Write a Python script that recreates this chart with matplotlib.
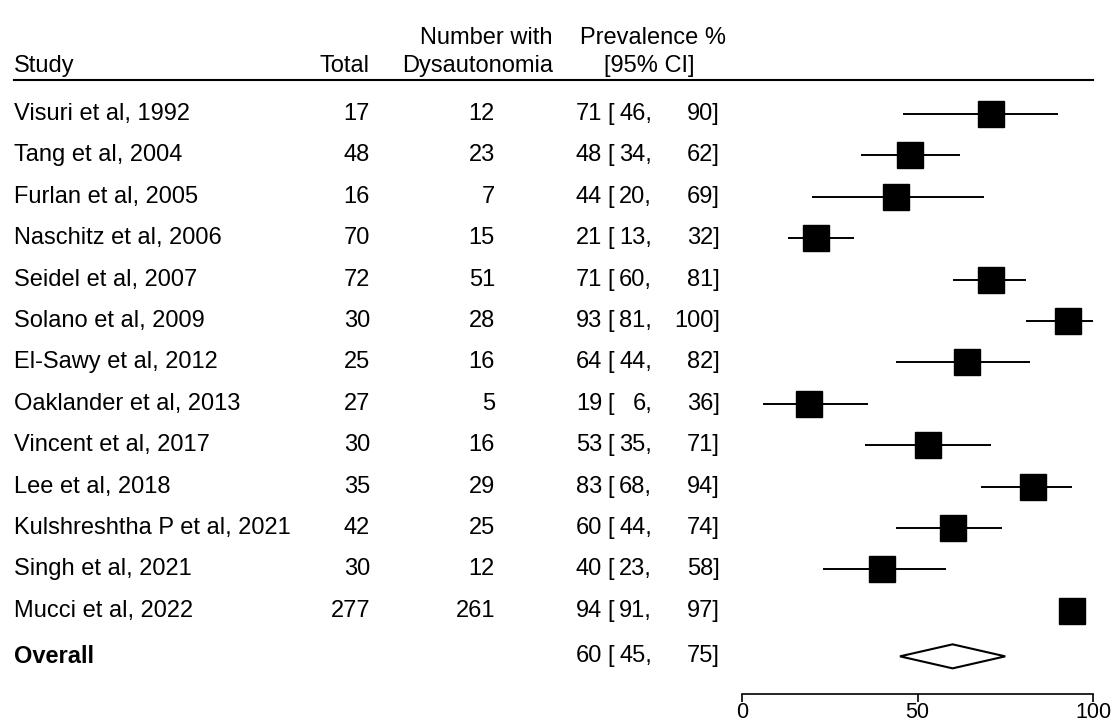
import matplotlib
matplotlib.use('Agg')
import matplotlib.pyplot as plt
import matplotlib.transforms as mtransforms
from matplotlib.patches import Polygon

plt.rcParams['font.family'] = ['Liberation Sans', 'DejaVu Sans']

# study level data
studies = ['Visuri et al, 1992', 'Tang et al, 2004', 'Furlan et al, 2005',
           'Naschitz et al, 2006', 'Seidel et al, 2007', 'Solano et al, 2009',
           'El-Sawy et al, 2012', 'Oaklander et al, 2013', 'Vincent et al, 2017',
           'Lee et al, 2018', 'Kulshreshtha P et al, 2021', 'Singh et al, 2021',
           'Mucci et al, 2022']
total = [17, 48, 16, 70, 72, 30, 25, 27, 30, 35, 42, 30, 277]
events = [12, 23, 7, 15, 51, 28, 16, 5, 16, 29, 25, 12, 261]
prev = [71, 48, 44, 21, 71, 93, 64, 19, 53, 83, 60, 40, 94]
ci_lo = [46, 34, 20, 13, 60, 81, 44, 6, 35, 68, 44, 23, 91]
ci_hi = [90, 62, 69, 32, 81, 100, 82, 36, 71, 94, 74, 58, 97]

# pooled estimate
overall_est = 60
overall_lo = 45
overall_hi = 75

W, H = 1115, 723
fig = plt.figure(figsize=(W / 100, H / 100), dpi=100)
# forest panel: x from 0..100 over the right part, y = row index going down
ax = fig.add_axes([742 / W, 0, (1093 - 742) / W, 1])
ax.set_xlim(0, 100)
ax.set_ylim(14.71, -2.754)

fs = 17
rows = list(range(len(studies)))
y_overall = 13.1

for i in rows:
    ax.plot([ci_lo[i], ci_hi[i]], [i, i], color='black', lw=1.4,
            solid_capstyle='butt', clip_on=False, zorder=2)
    ax.plot(prev[i], i, marker='s', ms=18.3, color='black', clip_on=False, zorder=3)

h = 0.29
diamond = Polygon([[overall_lo, y_overall], [overall_est, y_overall - h],
                   [overall_hi, y_overall], [overall_est, y_overall + h]],
                  closed=True, facecolor='white', edgecolor='black', lw=1.5,
                  clip_on=False, zorder=3)
ax.add_patch(diamond)

# axis
for s in ['top', 'right', 'left']:
    ax.spines[s].set_visible(False)
ax.spines['bottom'].set_position(('data', 14.01))
ax.spines['bottom'].set_linewidth(1.2)
ax.set_yticks([])
ax.set_xticks([0, 50, 100])
ax.tick_params(axis='x', direction='out', length=5.5, width=1.2, pad=0, labelsize=15.5)
ax.patch.set_visible(False)

# text columns (x in figure fraction, y in row units)
tr = mtransforms.blended_transform_factory(fig.transFigure, ax.transData)

def col(x, y, s, ha='left', **kw):
    ax.text(x / W, y, s, transform=tr, ha=ha, va='center', fontsize=fs, clip_on=False, **kw)

def ci_text(y, est, lo, hi):
    col(602, y, str(est), ha='right')
    col(607, y, '[')
    col(652, y, f'{lo},', ha='right')
    col(720, y, f'{hi}]', ha='right')

for i in rows:
    col(14, i, studies[i])
    col(370, i, str(total[i]), ha='right')
    col(495, i, str(events[i]), ha='right')
    ci_text(i, prev[i], ci_lo[i], ci_hi[i])

col(14, y_overall, 'Overall', fontweight='bold')
ci_text(y_overall, overall_est, overall_lo, overall_hi)

# header
col(14, -1.17, 'Study')
col(370, -1.17, 'Total', ha='right')
col(553, -1.84, 'Number with', ha='right')
col(553, -1.17, 'Dysautonomia', ha='right')
col(653, -1.84, 'Prevalence %', ha='center')
col(649, -1.17, '[95% CI]', ha='center')
ax.plot([14 / W, 1093 / W], [-0.82, -0.82], transform=tr, color='black', lw=1.5, clip_on=False)

fig.savefig('out.png', dpi=100, facecolor='white')
